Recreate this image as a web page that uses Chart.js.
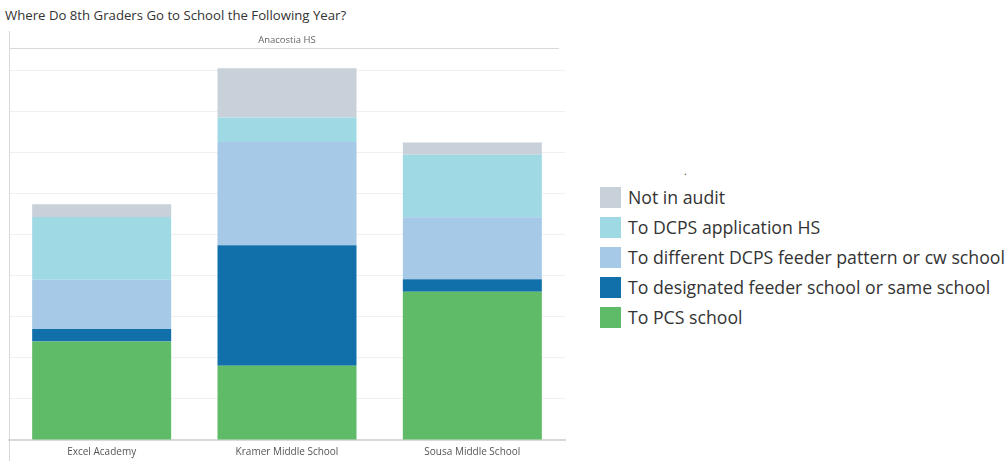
<!DOCTYPE html>
<html><head><meta charset="utf-8">
<script src="https://cdn.jsdelivr.net/npm/chart.js@4"></script>
<style>
html,body{margin:0;padding:0;background:#fff;width:1008px;height:461px;overflow:hidden;font-family:"Open Sans",sans-serif}
#title{position:absolute;left:5px;top:6px;font-size:13.2px;color:#333;white-space:nowrap;line-height:18px}
#wrap{position:absolute;left:0;top:0;width:570px;height:461px;overflow:hidden}
#legend{position:absolute;left:600px;top:168px;color:#333;font-size:17.7px}
#legend .dot{position:absolute;left:84px;top:-4px;font-size:10px;color:#333}
#legend .row{position:absolute;left:0;height:22px;white-space:nowrap}
#legend .sw{position:absolute;left:0;top:0;width:21px;height:21px}
#legend .lb{position:absolute;left:28px;top:-2px;line-height:24px}
</style></head>
<body>
<div id="title">Where Do 8th Graders Go to School the Following Year?</div>
<div id="wrap"><canvas id="c" width="570" height="467"></canvas></div>
<div id="legend"><span class="dot">.</span></div>
<script>
const categories = ["Excel Academy", "Kramer Middle School", "Sousa Middle School"];
const headerLabel = "Anacostia HS";
const seriesNames = ["To PCS school", "To designated feeder school or same school", "To different DCPS feeder pattern or cw school", "To DCPS application HS", "Not in audit"];
const toPCS = [24, 18.1, 36.1];
const toDesignated = [3, 29.3, 3];
const toDifferent = [12, 25.1, 15.1];
const toApplication = [15.3, 6, 15.2];
const notInAudit = [3.1, 12, 3];
const seriesColors = ["#5fbb68", "#1170aa", "#a5c9e6", "#9fd9e4", "#c8d0d9"];

const seriesValues = [toPCS, toDesignated, toDifferent, toApplication, notInAudit];

// HTML legend (top to bottom: reverse of stack order)
const legend = document.getElementById('legend');
seriesNames.slice().reverse().forEach((name, i) => {
  const idx = seriesNames.length - 1 - i;
  const row = document.createElement('div');
  row.className = 'row';
  row.style.top = (19 + i * 30) + 'px';
  row.innerHTML = '<div class="sw" style="background:' + seriesColors[idx] + '"></div><div class="lb"></div>';
  row.querySelector('.lb').textContent = name;
  legend.appendChild(row);
});

const framePlugin = {
  id: 'frame',
  afterDraw(chart) {
    const ctx = chart.ctx;
    ctx.save();
    ctx.strokeStyle = '#d9d9d9';
    ctx.lineWidth = 1;
    ctx.beginPath();
    ctx.moveTo(9.5, 31); ctx.lineTo(9.5, 467);
    ctx.moveTo(10, 48.5); ctx.lineTo(559, 48.5);
    ctx.stroke();
    ctx.fillStyle = '#666';
    ctx.font = '9.5px "Open Sans", sans-serif';
    ctx.textAlign = 'center';
    ctx.textBaseline = 'middle';
    ctx.fillText(headerLabel, 287, 40);
    ctx.restore();
  }
};

new Chart(document.getElementById('c'), {
  type: 'bar',
  data: {
    labels: categories,
    datasets: seriesNames.map((n, i) => ({
      label: n,
      data: seriesValues[i],
      backgroundColor: seriesColors[i],
      borderWidth: 0,
      barPercentage: 0.75,
      categoryPercentage: 1
    }))
  },
  options: {
    responsive: false,
    animation: false,
    layout: { padding: { left: 9, right: 5, top: 48, bottom: 3 } },
    plugins: { legend: { display: false }, tooltip: { enabled: false } },
    scales: {
      x: {
        stacked: true,
        grid: { display: false, drawTicks: false },
        border: { display: true, color: '#d9d9d9', width: 2 },
        ticks: { color: '#555', padding: 6, font: { family: '"Open Sans", sans-serif', size: 10 } }
      },
      y: {
        stacked: true,
        min: 0,
        max: 95.4,
        grid: { color: '#f0f0f0', drawTicks: false },
        border: { display: false },
        ticks: { display: false, stepSize: 10, includeBounds: false }
      }
    }
  },
  plugins: [framePlugin]
});
</script>
</body></html>
